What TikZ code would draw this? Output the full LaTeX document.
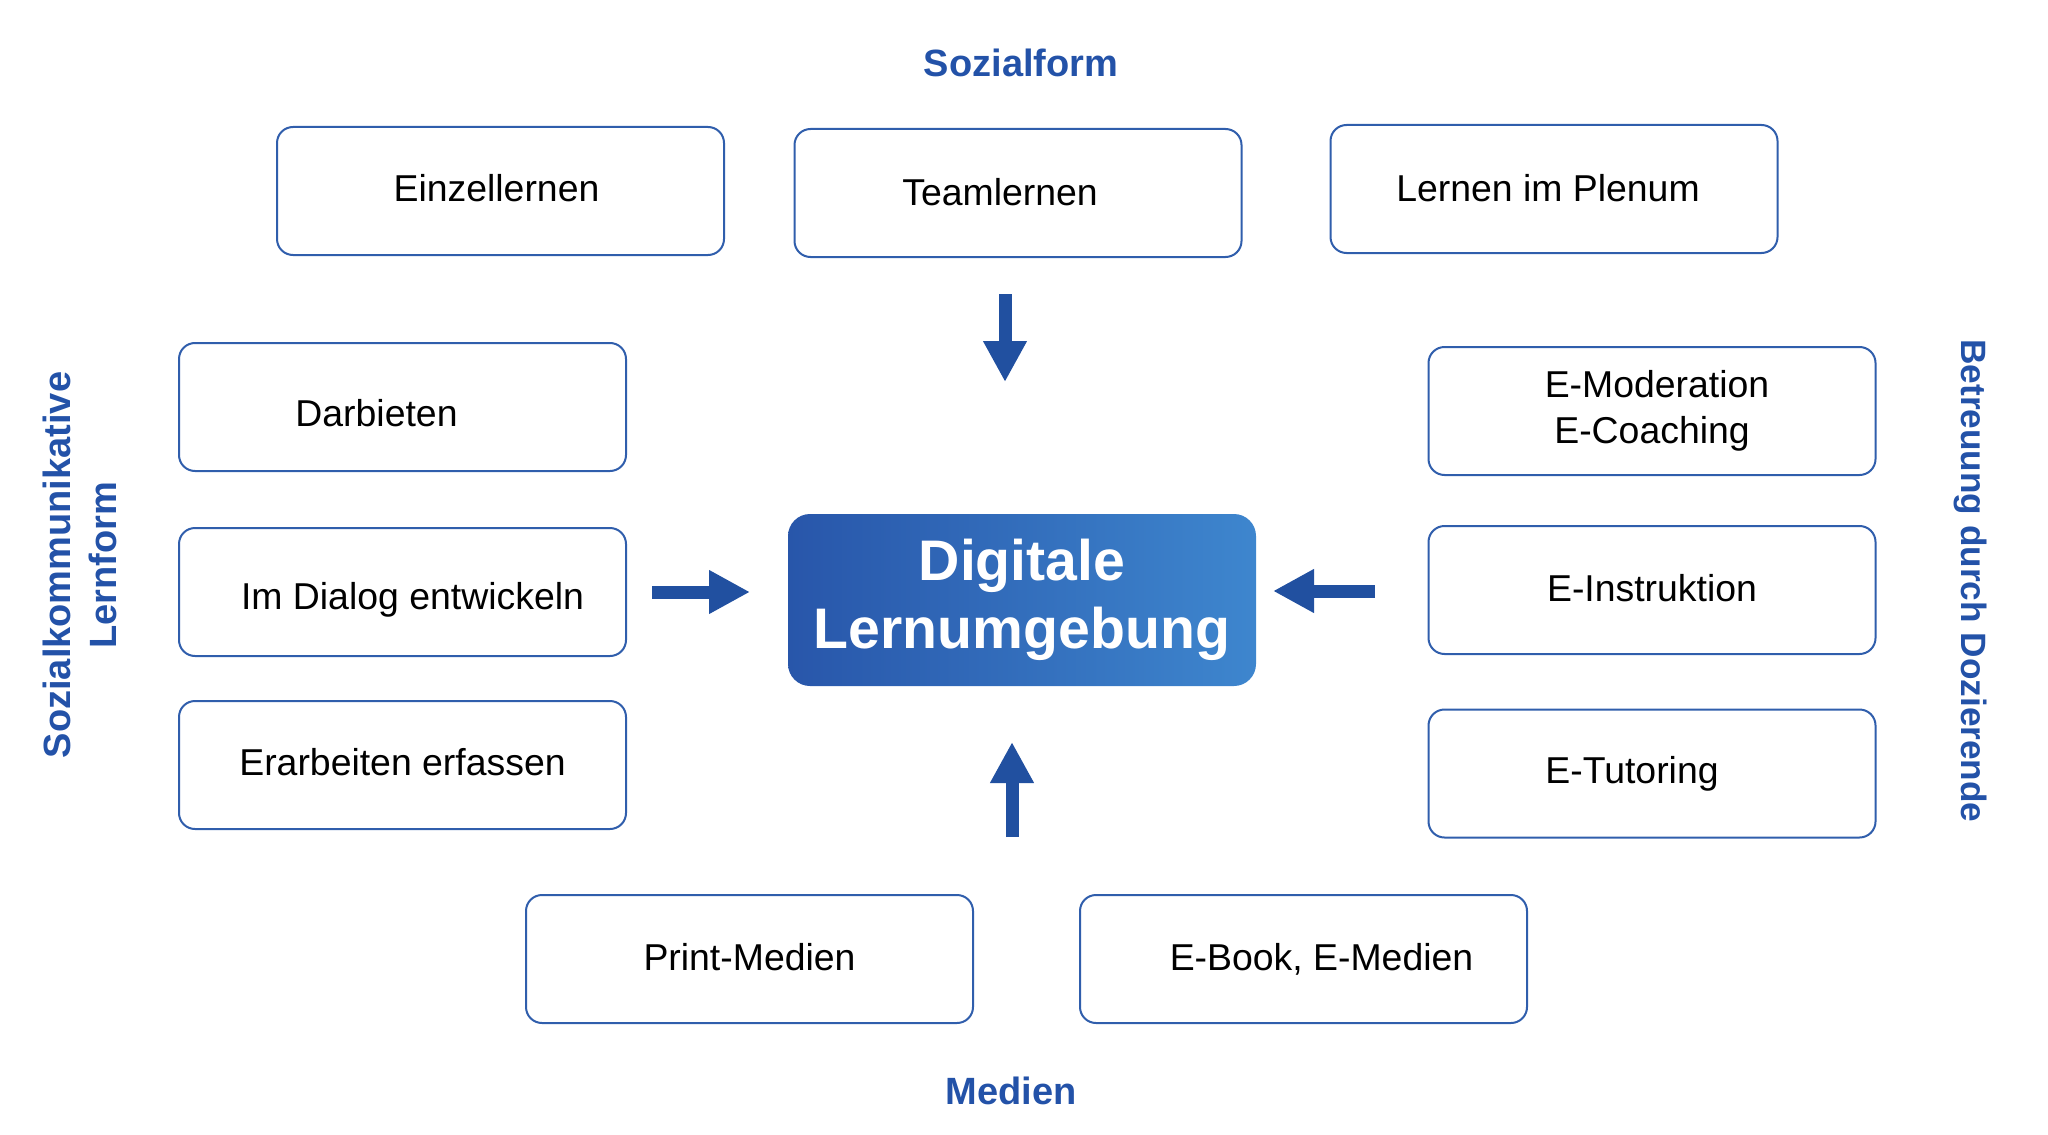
\documentclass[tikz,border=0pt]{standalone}
\usepackage{fontspec}
\setmainfont{Liberation Sans}
\usepackage{xcolor}
\usepackage{tikz}
\usetikzlibrary{arrows.meta, positioning}
\definecolor{boxblue}{RGB}{48, 94, 172}
\definecolor{arrowblue}{RGB}{33, 80, 160}
\definecolor{labelblue}{RGB}{35, 82, 168}
\definecolor{gradleft}{RGB}{40, 86, 170}
\definecolor{gradright}{RGB}{62, 134, 206}
\newcommand{\mv}[3][0pt]{\raisebox{#1}[\height][\depth]{\hspace*{#2}#3\hspace*{-#2}}}

\begin{document}
\begin{tikzpicture}[x=0.5pt, y=-0.5pt,
    box/.style={draw=boxblue, line width=1pt, rounded corners=8pt, fill=white,
        minimum width=223.5pt, minimum height=64pt, align=center,
        font=\fontsize{18.7}{23}\selectfont},
    hub/.style={rounded corners=11pt, left color=gradleft, right color=gradright,
        minimum width=234pt, minimum height=86pt, align=center, text=white,
        font=\fontsize{28.6}{34}\selectfont\bfseries},
    dim/.style={text=labelblue, align=center, font=\fontsize{19}{23}\selectfont\bfseries},
    fat/.style={arrowblue, line width=6.5pt, -{Triangle[length=20.5pt, width=20.5pt]}}]
    \useasboundingbox (0,0) rectangle (2048,1134);

    % Mitte
    \node[hub] (dig) at (1022,600) {Digitale\\Lernumgebung};

    % Sozialform
    \node[dim] (sozf) at (1021,63) {Sozialform};
    \node[box] (einz) at (500.5,191) {\mv[1.5pt]{-2pt}{Einzellernen}};
    \node[box] (team) at (1018,193) {\mv[0.5pt]{-9pt}{Teamlernen}};
    \node[box] (plen) at (1554,189) {\mv[0.5pt]{-3pt}{Lernen im Plenum}};

    % Lernform
    \node[dim, rotate=90] (lernf) at (80,565) {Sozialkommunikative\\Lernform};
    \node[box] (darb) at (402.5,407) {\mv[-3.3pt]{-13pt}{Darbieten}};
    \node[box] (dial) at (402.5,592) {\mv[-4pt]{5pt}{Im Dialog entwickeln}};
    \node[box] (erar) at (402.5,765) {\mv[1.5pt]{0pt}{Erarbeiten erfassen}};

    % Betreuung
    \node[dim, rotate=-90, font=\fontsize{17.6}{21}\selectfont\bfseries] (betr) at (1970,581) {Betreuung durch Dozierende};
    \node[box] (emod) at (1652,411) {\mv{2.5pt}{E-Moderation}\\E-Coaching};
    \node[box] (einst) at (1652,590) {\mv[1pt]{0pt}{E-Instruktion}};
    \node[box] (etut) at (1652,773.5) {\mv{-10pt}{E-Tutoring}};

    % Medien
    \node[dim] (med) at (1011,1091) {Medien};
    \node[box] (print) at (749.5,959) {\mv[1pt]{0pt}{Print-Medien}};
    \node[box] (ebook) at (1303.5,959) {\mv{9pt}{E-Book, E-Medien}};

    % Pfeile zur Mitte
    \coordinate (dn-a) at (1005,294);  \coordinate (dn-b) at (1005,382);
    \coordinate (lf-a) at (652,592);   \coordinate (lf-b) at (750,592);
    \coordinate (rt-a) at (1375,591);  \coordinate (rt-b) at (1273,591);
    \coordinate (up-a) at (1012,837);  \coordinate (up-b) at (1012,742);
    \draw[fat] (dn-a) -- (dn-b);
    \draw[fat] (lf-a) -- (lf-b);
    \draw[fat] (rt-a) -- (rt-b);
    \draw[fat] (up-a) -- (up-b);
\end{tikzpicture}
\end{document}
